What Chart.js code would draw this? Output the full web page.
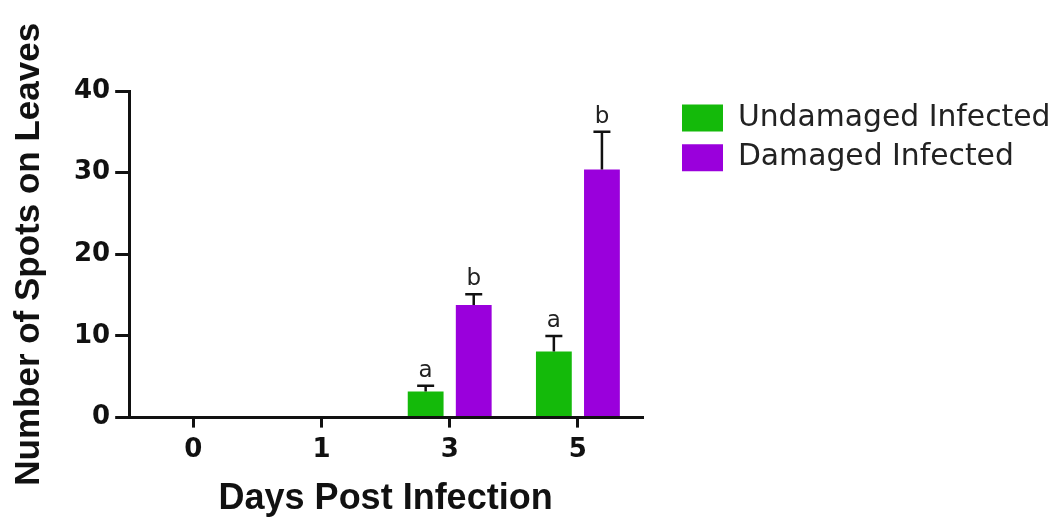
<!DOCTYPE html>
<html><head><meta charset="utf-8">
<script src="https://cdn.jsdelivr.net/npm/chart.js@4.4.1/dist/chart.umd.min.js"></script>
<style>html,body{margin:0;padding:0;background:#fff}#wrap{width:1053px;height:519px}</style>
</head><body><div id="wrap"><canvas id="c" width="1053" height="519"></canvas></div>
<script>
const days = ['0', '1', '3', '5'];
const undamaged = [0, 0, 3.2, 8.1];
const damaged = [0, 0, 13.8, 30.4];
const undamagedErr = [null, null, 0.7, 1.9];
const damagedErr = [null, null, 1.3, 4.6];
const undamagedLetters = ['', '', 'a', 'a'];
const damagedLetters = ['', '', 'b', 'b'];
const yMin = 0, yMax = 40, yStep = 10;

const errorBars = {
  id: 'errorBars',
  afterDatasetsDraw(chart) {
    const ctx = chart.ctx, y = chart.scales.y;
    chart.data.datasets.forEach((ds, di) => {
      const meta = chart.getDatasetMeta(di);
      meta.data.forEach((bar, i) => {
        const e = ds.errors[i];
        if (e == null) return;
        const top = y.getPixelForValue(ds.data[i] + e);
        const x = bar.x;
        ctx.save();
        ctx.strokeStyle = '#111';
        ctx.lineWidth = 2.5;
        ctx.beginPath();
        ctx.moveTo(x, bar.y); ctx.lineTo(x, top);
        ctx.moveTo(x - 8.5, top); ctx.lineTo(x + 8.5, top);
        ctx.stroke();
        const L = ds.letters[i];
        if (L) {
          ctx.fillStyle = '#222';
          ctx.font = '23px "DejaVu Sans"';
          ctx.textAlign = 'center';
          ctx.textBaseline = 'alphabetic';
          ctx.fillText(L, x, top - 9);
        }
        ctx.restore();
      });
    });
  }
};

const legendPlace = {
  id: 'legendPlace',
  beforeLayout(chart) {
    const L = chart.legend;
    if (L && !L._patched) {
      const f = L.fit;
      L.fit = function () { f.call(this); this.width = 411; };
      L._patched = true;
    }
  },
  afterLayout(chart) {
    const L = chart.legend;
    L.left = 672; L.right = 1053; L.top = 93; L.bottom = 519;
  }
};

new Chart(document.getElementById('c'), {
  type: 'bar',
  data: {
    labels: days,
    datasets: [
      { label: 'Undamaged Infected', data: undamaged, errors: undamagedErr, letters: undamagedLetters,
        backgroundColor: '#14BA0A', borderWidth: 0 },
      { label: 'Damaged Infected', data: damaged, errors: damagedErr, letters: damagedLetters,
        backgroundColor: '#9A00DC', borderWidth: 0 }
    ]
  },
  options: {
    responsive: false,
    animation: false,
    devicePixelRatio: 1,
    categoryPercentage: 0.75,
    barPercentage: 0.745,
    layout: { padding: { top: 91, left: 0, right: 0, bottom: 0 } },
    plugins: {
      tooltip: { enabled: false },
      legend: {
        position: 'right',
        align: 'start',
        labels: {
          boxWidth: 41, boxHeight: 27, padding: 10,
          color: '#222',
          font: { family: '"DejaVu Sans"', size: 29.8 }
        }
      }
    },
    scales: {
      x: {
        offset: true,
        grid: { display: true, drawOnChartArea: false, offset: false, tickLength: 10, lineWidth: 3, color: '#111' },
        border: { display: true, color: '#111', width: 3 },
        ticks: { color: '#111', padding: 7, font: { family: '"DejaVu Sans"', weight: 'bold', size: 26 } },
        title: { display: true, text: 'Days Post Infection', color: '#111',
          padding: { top: 5, bottom: -2 },
          font: { family: '"Liberation Sans"', weight: 'bold', size: 36 } }
      },
      y: {
        min: yMin, max: yMax,
        grid: { display: true, drawOnChartArea: false, tickLength: 14, lineWidth: 3, color: '#111' },
        border: { display: true, color: '#111', width: 3 },
        ticks: { stepSize: yStep, color: '#111', padding: 5, font: { family: '"DejaVu Sans"', weight: 'bold', size: 26 } },
        title: { display: true, text: 'Number of Spots on Leaves', color: '#111',
          padding: { top: 8, bottom: 19 },
          font: { family: '"Liberation Sans"', weight: 'bold', size: 35 } }
      }
    }
  },
  plugins: [errorBars, legendPlace]
});
</script>
</body></html>
